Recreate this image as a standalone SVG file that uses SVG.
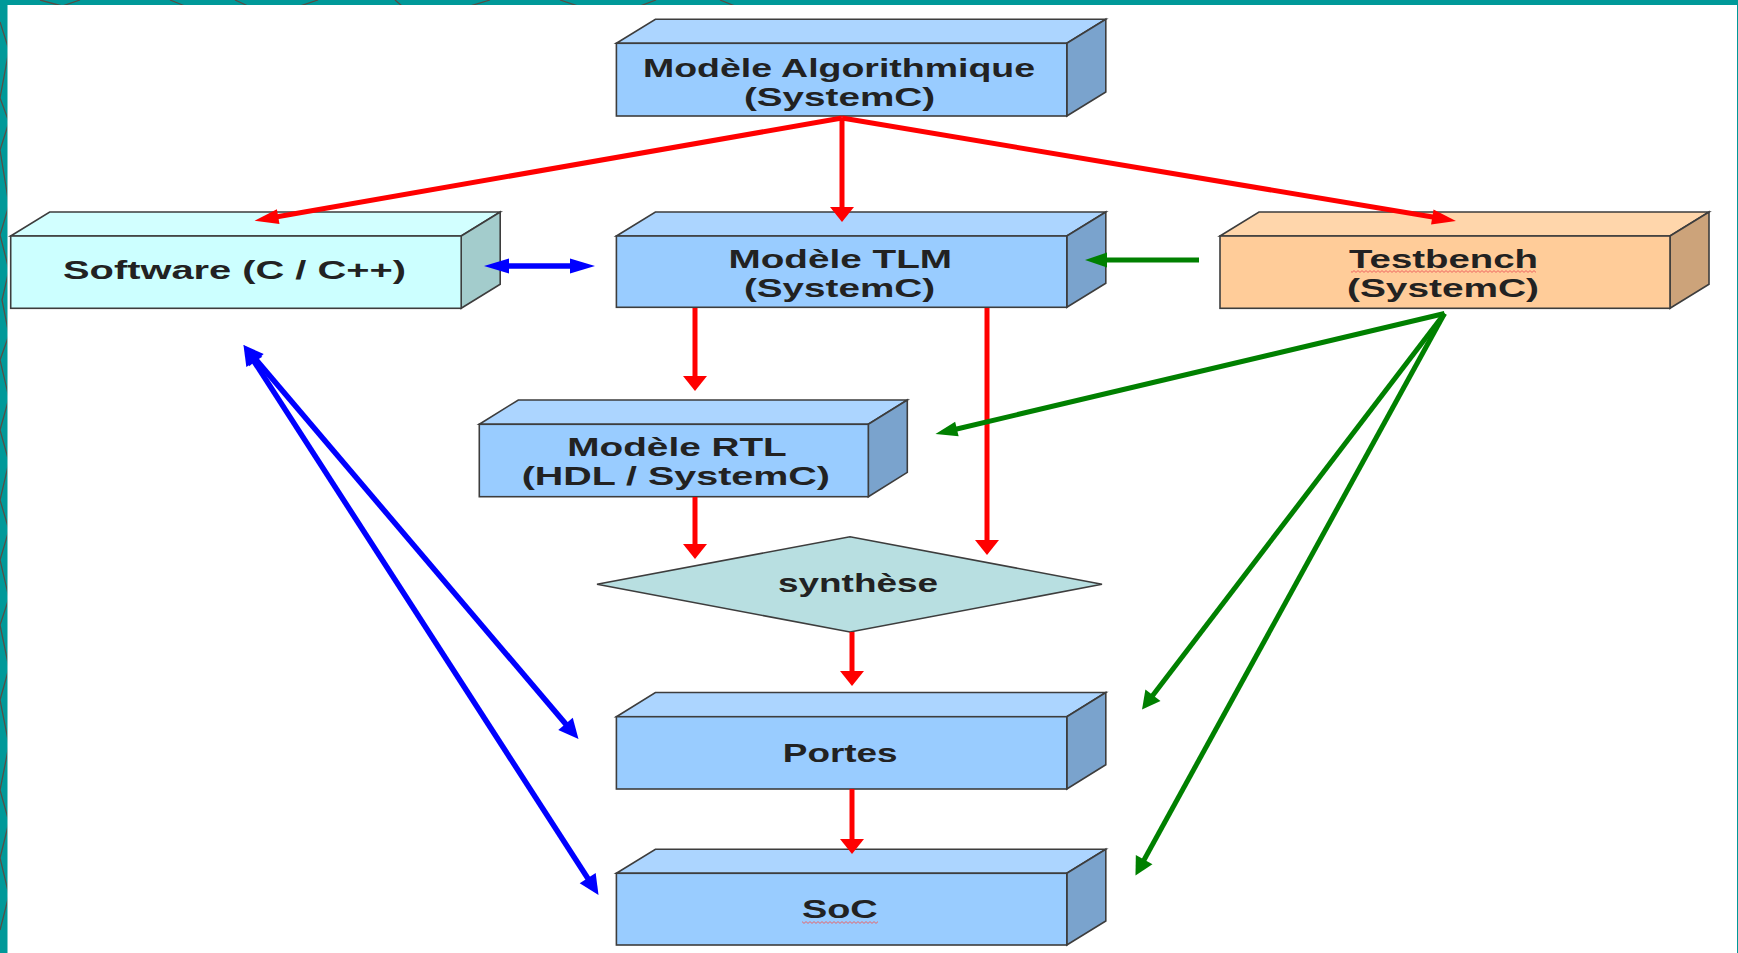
<svg xmlns="http://www.w3.org/2000/svg" width="1738" height="953" viewBox="0 0 1738 953">
  <style>
    .edge { stroke: #3d3d3d; stroke-width: 1.6; stroke-linejoin: miter; }
    .blue .front { fill: #99ccff; }
    .blue .top { fill: #acd5ff; }
    .blue .side { fill: #7aa3cd; }
    .cyan .front { fill: #ccffff; }
    .cyan .top { fill: #d2ffff; }
    .cyan .side { fill: #a3cccc; }
    .peach .front { fill: #ffcc99; }
    .peach .top { fill: #ffd6ab; }
    .peach .side { fill: #cca37a; }
    .label { font-family: "Liberation Sans", Arial, sans-serif; font-weight: bold; font-size: 25.5px; fill: #222222; }
    .red { stroke: #ff0000; stroke-width: 5; fill: none; }
    .green { stroke: #008000; stroke-width: 5; fill: none; }
    .blueline { stroke: #0000ff; stroke-width: 5.5; fill: none; }
  </style>
  <defs>
    <marker id="red-v" markerUnits="userSpaceOnUse" orient="auto" refX="5" refY="0" overflow="visible">
      <path d="M0,-12 L15,0 L0,12 Z" fill="#ff0000"/>
    </marker>
    <marker id="red-h" markerUnits="userSpaceOnUse" orient="auto" refX="14" refY="0" overflow="visible">
      <path d="M0,-7.5 L24,0 L0,7.5 Z" fill="#ff0000"/>
    </marker>
    <marker id="green-h" markerUnits="userSpaceOnUse" orient="auto" refX="12" refY="0" overflow="visible">
      <path d="M0,-7.5 L22,0 L0,7.5 Z" fill="#008000"/>
    </marker>
    <marker id="green-d" markerUnits="userSpaceOnUse" orient="auto" refX="8" refY="0" overflow="visible">
      <path d="M0,-9.5 L18,0 L0,9.5 Z" fill="#008000"/>
    </marker>
    <marker id="blue-h" markerUnits="userSpaceOnUse" orient="auto-start-reverse" refX="15" refY="0" overflow="visible">
      <path d="M0,-7.5 L25,0 L0,7.5 Z" fill="#0000ff"/>
    </marker>
    <marker id="blue-d" markerUnits="userSpaceOnUse" orient="auto-start-reverse" refX="10" refY="0" overflow="visible">
      <path d="M0,-9.5 L20,0 L0,9.5 Z" fill="#0000ff"/>
    </marker>
    <pattern id="squig" width="4" height="3" patternUnits="userSpaceOnUse">
      <path d="M0,2.4 L2,0.6 L4,2.4" fill="none" stroke="#ee5a5a" stroke-width="0.9"/>
    </pattern>
    <clipPath id="frameClip">
      <path clip-rule="evenodd" d="M0,0 H1738 V953 H0 Z M7.5,5 V953 H1737 V5 Z"/>
    </clipPath>
  </defs>

  <!-- slide frame -->
  <rect x="0" y="0" width="1738" height="953" fill="#009999"/>
  <g clip-path="url(#frameClip)" stroke="#574e46" stroke-width="1.3" fill="none">
    <path d="M0,22 L9,50 L0,98 L9,122 L0,150 L9,205 L0,235 L9,270 L2,300 L9,335 L0,360 L9,398 L0,430 L9,462 L0,500 L9,530 L0,560 L9,598 L0,625 L9,668 L0,700 L9,745 L0,790 L9,822 L0,858 L9,895 L0,930"/>
    <path d="M40,0 L62,6 L80,0 M170,0 L185,6 M235,0 L248,6 M300,6 L318,0 M395,0 L402,6 M470,6 L490,0 M560,0 L578,6 M640,6 L656,0 M720,0 L735,6"/>
  </g>
  <rect x="7.5" y="5" width="1729.5" height="948" fill="#ffffff"/>

  <!-- Modèle Algorithmique -->
  <g id="algo" class="blue">
    <polygon class="top edge" points="616.4,43.3 655.4,19.3 1105.8,19.3 1066.8,43.3"/>
    <polygon class="side edge" points="1066.8,43.3 1105.8,19.3 1105.8,92 1066.8,116"/>
    <rect class="front edge" x="616.4" y="43.3" width="450.4" height="72.7"/>
    <text class="label" x="643" y="77" textLength="392" lengthAdjust="spacingAndGlyphs">Modèle Algorithmique</text>
    <text class="label" x="744" y="106" textLength="191" lengthAdjust="spacingAndGlyphs">(SystemC)</text>
  </g>

  <!-- Software -->
  <g id="software" class="cyan">
    <polygon class="top edge" points="10.7,236 49.7,212 500.2,212 461.2,236"/>
    <polygon class="side edge" points="461.2,236 500.2,212 500.2,284.3 461.2,308.3"/>
    <rect class="front edge" x="10.7" y="236" width="450.5" height="72.3"/>
    <text class="label" x="63" y="278.5" textLength="343" lengthAdjust="spacingAndGlyphs">Software (C / C++)</text>
  </g>

  <!-- Modèle TLM -->
  <g id="tlm" class="blue">
    <polygon class="top edge" points="616.4,236 655.4,212 1105.8,212 1066.8,236"/>
    <polygon class="side edge" points="1066.8,236 1105.8,212 1105.8,283.3 1066.8,307.3"/>
    <rect class="front edge" x="616.4" y="236" width="450.4" height="71.3"/>
    <text class="label" x="728.5" y="268" textLength="223.5" lengthAdjust="spacingAndGlyphs">Modèle TLM</text>
    <text class="label" x="744" y="297" textLength="191" lengthAdjust="spacingAndGlyphs">(SystemC)</text>
  </g>

  <!-- Testbench -->
  <g id="testbench" class="peach">
    <polygon class="top edge" points="1220,236 1259,212 1709,212 1670,236"/>
    <polygon class="side edge" points="1670,236 1709,212 1709,284.3 1670,308.3"/>
    <rect class="front edge" x="1220" y="236" width="450" height="72.3"/>
    <text class="label" x="1349" y="268" textLength="189" lengthAdjust="spacingAndGlyphs">Testbench</text>
    <rect x="1351" y="270" width="185" height="3" fill="url(#squig)"/>
    <text class="label" x="1347" y="297" textLength="192" lengthAdjust="spacingAndGlyphs">(SystemC)</text>
  </g>

  <!-- Modèle RTL -->
  <g id="rtl" class="blue">
    <polygon class="top edge" points="479.3,424.3 518.3,400 907.3,400 868.3,424.3"/>
    <polygon class="side edge" points="868.3,424.3 907.3,400 907.3,472.4 868.3,496.7"/>
    <rect class="front edge" x="479.3" y="424.3" width="389" height="72.4"/>
    <text class="label" x="567.3" y="455.7" textLength="219.4" lengthAdjust="spacingAndGlyphs">Modèle RTL</text>
    <text class="label" x="521.7" y="485" textLength="308.3" lengthAdjust="spacingAndGlyphs">(HDL / SystemC)</text>
  </g>

  <!-- synthèse -->
  <g id="synthese">
    <polygon class="edge" fill="#b8dfe1" stroke-width="1.3" points="597,584.3 850,536.7 1102,584.3 850,632"/>
    <text class="label" x="778" y="592" textLength="160" lengthAdjust="spacingAndGlyphs">synthèse</text>
  </g>

  <!-- Portes -->
  <g id="portes" class="blue">
    <polygon class="top edge" points="616.4,716.7 655.4,692.5 1105.8,692.5 1066.8,716.7"/>
    <polygon class="side edge" points="1066.8,716.7 1105.8,692.5 1105.8,764.8 1066.8,789"/>
    <rect class="front edge" x="616.4" y="716.7" width="450.4" height="72.3"/>
    <text class="label" x="782.8" y="761.7" textLength="114.8" lengthAdjust="spacingAndGlyphs">Portes</text>
  </g>

  <!-- SoC -->
  <g id="soc" class="blue">
    <polygon class="top edge" points="616.4,873.3 655.4,849.3 1105.8,849.3 1066.8,873.3"/>
    <polygon class="side edge" points="1066.8,873.3 1105.8,849.3 1105.8,921 1066.8,945"/>
    <rect class="front edge" x="616.4" y="873.3" width="450.4" height="71.7"/>
    <text class="label" x="802" y="917.7" textLength="75.7" lengthAdjust="spacingAndGlyphs">SoC</text>
    <rect x="802" y="921" width="76" height="3" fill="url(#squig)"/>
  </g>

  <!-- connectors, drawn over the boxes so the arrow tips stay visible -->
  <g id="connectors">
    <path class="red" d="M842,118 L842,212" marker-end="url(#red-v)"/>
    <path class="red" d="M842,118 L264.4,219" marker-end="url(#red-h)"/>
    <path class="red" d="M842,118 L1446.1,219.3" marker-end="url(#red-h)"/>
    <path class="red" d="M695,308 L695,381" marker-end="url(#red-v)"/>
    <path class="red" d="M695,497 L695,549" marker-end="url(#red-v)"/>
    <path class="red" d="M987,308 L987,545" marker-end="url(#red-v)"/>
    <path class="red" d="M852,632 L852,676" marker-end="url(#red-v)"/>
    <path class="red" d="M852,789 L852,844" marker-end="url(#red-v)"/>

    <path class="green" d="M1199,260 L1095,260" marker-end="url(#green-h)"/>
    <path class="green" d="M1444.5,313.5 L945.2,431.7" marker-end="url(#green-h)"/>
    <path class="green" d="M1444.5,313.5 L1148.1,701.6" marker-end="url(#green-d)"/>
    <path class="green" d="M1444.5,313.5 L1140.3,866.7" marker-end="url(#green-d)"/>

    <path class="blueline" d="M494,266 L585,266" marker-start="url(#blue-h)" marker-end="url(#blue-h)"/>
    <path class="blueline" d="M250,352.6 L572,731.4" marker-start="url(#blue-d)" marker-end="url(#blue-d)"/>
    <path class="blueline" d="M248.9,353.4 L593.1,886.6" marker-start="url(#blue-d)" marker-end="url(#blue-d)"/>
  </g>
</svg>
